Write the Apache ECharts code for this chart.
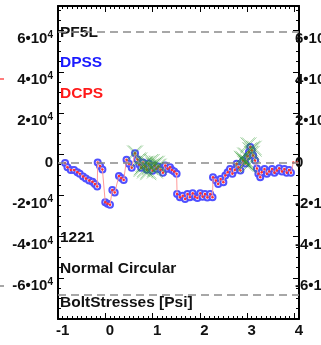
<!DOCTYPE html>
<html>
<head>
<meta charset="utf-8">
<script src="https://cdn.jsdelivr.net/npm/echarts@6/dist/echarts.min.js"></script>
<style>
  html, body { margin: 0; padding: 0; background: #fff; }
  #chart { width: 321px; height: 345px; }
</style>
</head>
<body>
<div id="chart"></div>
<script>
// Bolt stress along the circular path (psi)
const xs = [
  -0.95, -0.90, -0.83, -0.76, -0.69, -0.64, -0.57, -0.51, -0.44, -0.37, -0.32, -0.27,
  -0.26, -0.21, -0.16,
  -0.10, -0.05, 0.00,
  0.05, 0.10,
  0.19, 0.24, 0.29,
  0.35, 0.40, 0.46, 0.53,
  0.58, 0.62, 0.66, 0.70, 0.74, 0.78, 0.82, 0.86, 0.90, 0.94, 0.98,
  1.02, 1.07, 1.12, 1.17, 1.22, 1.27, 1.31, 1.36, 1.41,
  1.42, 1.48, 1.54, 1.59, 1.64, 1.69, 1.75, 1.80, 1.85, 1.91, 1.96, 2.01, 2.06, 2.12, 2.17,
  2.18, 2.24, 2.29, 2.34, 2.40, 2.44, 2.49, 2.54, 2.59, 2.64, 2.68, 2.72, 2.76,
  2.82, 2.87, 2.91, 2.94, 2.97, 3.00, 3.03, 3.07,
  3.11, 3.14, 3.18, 3.21, 3.27, 3.32, 3.37, 3.43, 3.48, 3.53, 3.58, 3.64, 3.69, 3.74, 3.79, 3.83,
  3.88, 3.96
];
const dpss = [
  -300, -2300, -3600, -3600, -4700, -5500, -6800, -7800, -8800, -9400, -10400, -11700,
  0, -1700, -3400,
  -19300, -20000, -20500,
  -13400, -14600,
  -6500, -7500, -8500,
  1300, -600, -2600, 4500,
  1500, -1000, -2500, 0, -2000, -3500, -500, -2500, -4000, -1500, -3000,
  -2000, -3500, -5000, -1500, -3000, -2300, -3600, -4400, -5500,
  -15300, -16900, -16100, -17700, -15300, -16900, -14900, -16600, -17200, -14900, -16600, -15300, -17000, -15300, -16900,
  -7200, -8800, -10400, -8000, -9600, -6300, -4700, -3100, -5500, -3600, -600, -2300, -3900,
  1000, -500, 3000, 5000, 7500, 5900, 3400, 1000,
  -2900, -5500, -7200, -4700, -3100, -5500, -4400, -3100, -5000, -3900, -2800, -4400, -3100, -5000, -3600, -5000,
  null, null
];
const dcps = [
  -300, -2300, -3600, -3600, -4700, -5500, -6800, -7800, -8800, -9400, -10400, -11700,
  0, -1700, -3400,
  -19300, -20000, -20500,
  -13400, -14600,
  -6500, -7500, -8500,
  1300, -600, -2600, 4500,
  1500, -1000, -2500, 0, -2000, -3500, -500, -2500, -4000, -1500, -3000,
  -2000, -3500, -5000, -1500, -3000, -2300, -3600, -4400, -5500,
  -15300, -16900, -16100, -17700, -15300, -16900, -14900, -16600, -17200, -14900, -16600, -15300, -17000, -15300, -16900,
  -7200, -8800, -10400, -8000, -9600, -6300, -4700, -3100, -5500, -3600, -600, -2300, -3900,
  1000, -500, 3000, 5000, 7500, 5900, 3400, 1000,
  -2900, -5500, -7200, -4700, -3100, -5500, -4400, -3100, -5000, -3900, -2800, -4400, -3100, -5000, -3600, -5000,
  0, 0
];
const pf5lX = [0.53, 0.62, 0.67, 0.71, 0.74, 0.78, 0.81, 0.85, 0.88, 0.92, 0.95, 0.99, 1.03,
               2.79, 2.82, 2.86, 2.86, 2.89, 2.93, 2.93, 2.97, 3.00, 3.04];
const pf5lY = [4400, 1000, -3100, -1500, -3900, -600, -4700, -2300, 200, -1500, -3900, -600, -2000,
               1800, 1000, 3400, -600, 100, 8300, -1500, 5900, 4200, 6700];
const refLines = [63500, 0, -64000];

const xTicks = [-1, 0, 1, 2, 3, 4];
const yTicks = [-60000, -40000, -20000, 0, 20000, 40000, 60000];

const FONT = 'Liberation Sans, Arial, sans-serif';

function yLabel(v) {
  if (v === 0) return '{m|0}';
  return '{m|' + (v / 10000) + '•10}{s|4}';
}
const yRich = {
  m: { fontSize: 15, fontWeight: 'bold', fontFamily: FONT, color: '#111', lineHeight: 18 },
  s: { fontSize: 10, fontWeight: 'bold', fontFamily: FONT, color: '#111', verticalAlign: 'top', lineHeight: 18 }
};

const X_MIN = -1.1, X_MAX = 4, Y_MIN = -76000, Y_MAX = 76000;

// major axes: frame line, integer ticks and labels
function xMajor(position, withLabels) {
  return {
    type: 'value', position, min: X_MIN, max: X_MAX, interval: 1,
    splitLine: { show: false },
    axisLine: { show: true, onZero: false, lineStyle: { color: '#000', width: 2 } },
    axisTick: { show: true, inside: true, length: 6, lineStyle: { color: '#000', width: 1 } },
    axisLabel: withLabels ? { show: true, customValues: xTicks, margin: 4, fontSize: 15, fontWeight: 'bold',
                              fontFamily: FONT, color: '#111' } : { show: false }
  };
}
// minor axes: short ticks every 0.1
function xMinor(position) {
  return {
    type: 'value', position, min: X_MIN, max: X_MAX, interval: 0.1,
    splitLine: { show: false }, axisLine: { show: false, onZero: false }, axisLabel: { show: false },
    axisTick: { show: true, inside: true, length: 3, lineStyle: { color: '#000', width: 1 } }
  };
}
function yMajor(position) {
  return {
    type: 'value', position, min: Y_MIN, max: Y_MAX, interval: 20000,
    splitLine: { show: false },
    axisLine: { show: true, onZero: false, lineStyle: { color: '#000', width: 2 } },
    axisTick: { show: true, inside: true, length: 6, lineStyle: { color: '#000', width: 1 } },
    axisLabel: { show: true, customValues: yTicks, margin: position === 'left' ? 5 : -4,
                 formatter: yLabel, rich: yRich }
  };
}
function yMinor(position) {
  return {
    type: 'value', position, min: Y_MIN, max: Y_MAX, interval: 5000,
    splitLine: { show: false }, axisLine: { show: false, onZero: false }, axisLabel: { show: false },
    axisTick: { show: true, inside: true, length: 3, lineStyle: { color: '#000', width: 1 } }
  };
}

const chart = echarts.init(document.getElementById('chart'), null, { renderer: 'canvas' });

const xPath = 'path://M0,0L10,10M10,0L0,10M1,0L10,9M9,0L0,9';
const TEXT_FONT = 'bold 15.5px ' + FONT;

chart.setOption({
  animation: false,
  backgroundColor: '#fff',
  grid: { left: 58, right: 22, top: 6, bottom: 26, containLabel: false, outerBoundsMode: 'none' },
  xAxis: [xMajor('bottom', true), xMinor('bottom'), xMajor('top', false), xMinor('top')],
  yAxis: [yMajor('left'), yMinor('left'), yMajor('right'), yMinor('right')],
  series: [
    {
      name: 'ref', type: 'line', data: [], xAxisIndex: 0, yAxisIndex: 0,
      markLine: {
        silent: true, symbol: 'none', label: { show: false },
        lineStyle: { color: '#8a8a8a', type: [8, 5], width: 1.5 },
        data: refLines.map(v => ({ yAxis: v }))
      }
    },
    {
      name: 'DPSS', type: 'scatter', xAxisIndex: 0, yAxisIndex: 0, z: 3,
      data: xs.map((x, i) => [x, dpss[i]]).filter(p => p[1] !== null),
      symbol: 'emptyCircle', symbolSize: 6,
      itemStyle: { color: '#5050ff', borderColor: '#5050ff', borderWidth: 1.2, opacity: 1 }
    },
    {
      name: 'DCPS', type: 'line', xAxisIndex: 0, yAxisIndex: 0, z: 4,
      data: xs.map((x, i) => [x, dcps[i]]),
      symbol: 'circle', symbolSize: 2.5, showSymbol: true, showAllSymbol: true,
      lineStyle: { color: '#ff9a9a', width: 1 },
      itemStyle: { color: '#ff3030' }
    },
    {
      name: 'PF5L', type: 'scatter', xAxisIndex: 0, yAxisIndex: 0, z: 5,
      data: pf5lX.map((x, i) => [x, pf5lY[i]]),
      symbol: xPath, symbolSize: 16,
      itemStyle: { color: 'rgba(0,0,0,0)', borderColor: 'rgba(40,150,40,0.55)', borderWidth: 1 }
    }
  ],
  graphic: [
    { type: 'text', left: 60, top: 25, style: { text: 'PF5L', fill: '#111', font: TEXT_FONT } },
    { type: 'text', left: 60, top: 55, style: { text: 'DPSS', fill: '#1a1aff', font: TEXT_FONT } },
    { type: 'text', left: 60, top: 86, style: { text: 'DCPS', fill: '#ff1a1a', font: TEXT_FONT } },
    { type: 'text', left: 60, top: 230, style: { text: '1221', fill: '#111', font: TEXT_FONT } },
    { type: 'text', left: 60, top: 261, style: { text: 'Normal Circular', fill: '#111', font: TEXT_FONT } },
    { type: 'text', left: 60, top: 295, style: { text: 'BoltStresses [Psi]', fill: '#111', font: TEXT_FONT } },
    { type: 'line', shape: { x1: 0, y1: 79, x2: 4, y2: 79 }, style: { stroke: '#ff5050', lineWidth: 1.5 } },
    { type: 'line', shape: { x1: 0, y1: 286, x2: 4, y2: 286 }, style: { stroke: '#8a8a8a', lineWidth: 1.5 } }
  ]
});
</script>
</body>
</html>
